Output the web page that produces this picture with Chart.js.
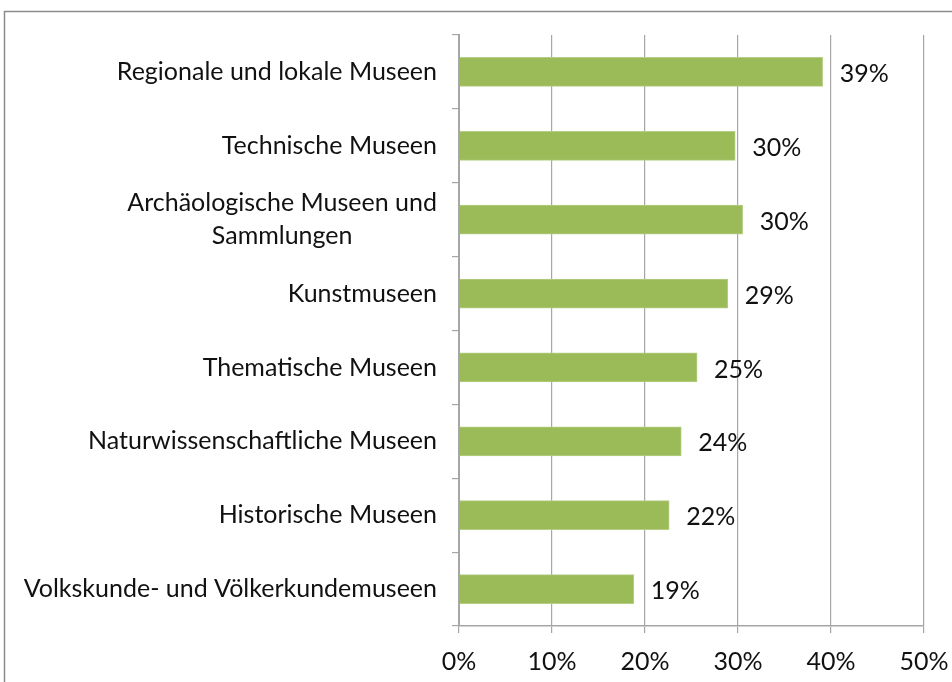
<!DOCTYPE html>
<html>
<head>
<meta charset="utf-8">
<script src="https://cdn.jsdelivr.net/npm/chart.js@4/dist/chart.umd.min.js"></script>
<style>
  html, body { margin: 0; padding: 0; background: #fff; }
  #wrap { width: 952px; height: 682px; position: relative; }
</style>
</head>
<body>
<div id="wrap"><canvas id="chart"></canvas></div>
<script>
// Museum types and share (%)
const categories = [
  'Regionale und lokale Museen',
  'Technische Museen',
  ['Archäologische Museen und', 'Sammlungen'],
  'Kunstmuseen',
  'Thematische Museen',
  'Naturwissenschaftliche Museen',
  'Historische Museen',
  'Volkskunde- und Völkerkundemuseen'
];
const shares = [39.1, 29.7, 30.5, 28.9, 25.6, 23.9, 22.6, 18.8];
const shareLabels = ['39%', '30%', '30%', '29%', '25%', '24%', '22%', '19%'];
const xTicks = [0, 10, 20, 30, 40, 50];

const FONT = 'Lato, "Open Sans", sans-serif';
const FONT_SIZE = 25;
const GRID = '#a6a6a6';

// outer frame like the original export
const framePlugin = {
  id: 'frame',
  beforeDraw(chart) {
    const ctx = chart.ctx;
    ctx.save();
    ctx.strokeStyle = '#8c8c8c';
    ctx.lineWidth = 1.5;
    ctx.strokeRect(4.5, 11.5, 1200, 1200);
    ctx.restore();
  }
};

// category labels, multi-line ones centered within their block
const catLabelPlugin = {
  id: 'catLabels',
  afterDraw(chart) {
    const ctx = chart.ctx;
    const yScale = chart.scales.y;
    const right = chart.chartArea.left - 22;
    const lineH = 33;
    ctx.save();
    ctx.font = FONT_SIZE + 'px ' + FONT;
    ctx.fillStyle = '#111';
    ctx.textBaseline = 'middle';
    ctx.textAlign = 'center';
    categories.forEach((lab, i) => {
      const lines = Array.isArray(lab) ? lab : [lab];
      const w = Math.max(...lines.map(l => ctx.measureText(l).width));
      const cx = right - w / 2;
      const yc = yScale.getPixelForTick(i);
      lines.forEach((l, j) => {
        ctx.fillText(l, cx, yc + (j - (lines.length - 1) / 2) * lineH);
      });
    });
    ctx.restore();
  }
};

// value labels at bar ends
const valueLabelPlugin = {
  id: 'valueLabels',
  afterDatasetsDraw(chart) {
    const ctx = chart.ctx;
    const meta = chart.getDatasetMeta(0);
    ctx.save();
    ctx.font = FONT_SIZE + 'px ' + FONT;
    ctx.fillStyle = '#111';
    ctx.textBaseline = 'middle';
    ctx.textAlign = 'left';
    meta.data.forEach((bar, i) => {
      ctx.fillText(shareLabels[i], bar.x + 17, bar.y + 2);
    });
    ctx.restore();
  }
};

new Chart(document.getElementById('chart'), {
  type: 'bar',
  data: {
    labels: categories,
    datasets: [{
      data: shares,
      backgroundColor: '#9bbb59',
      borderColor: '#b5cf85',
      borderWidth: 1,
      barThickness: 29
    }]
  },
  options: {
    indexAxis: 'y',
    responsive: true,
    maintainAspectRatio: false,
    animation: false,
    layout: { padding: { top: 35, right: 28, left: 0, bottom: 0 } },
    plugins: {
      legend: { display: false },
      tooltip: { enabled: false }
    },
    scales: {
      x: {
        min: 0,
        max: 50,
        afterBuildTicks: scale => { scale.ticks = xTicks.map(v => ({ value: v })); },
        afterFit: scale => {
          scale.height = 56;
          scale.paddingLeft = 0;
          scale.paddingRight = 0;
        },
        grid: { color: GRID, lineWidth: 1.2, tickLength: 7, drawTicks: true },
        border: { color: GRID, width: 1.5 },
        ticks: {
          padding: 14,
          color: '#111',
          font: { family: FONT, size: FONT_SIZE },
          callback: v => v + '%'
        }
      },
      y: {
        afterFit: scale => { scale.width = 459; },
        grid: { color: GRID, lineWidth: 1.2, drawOnChartArea: false, tickLength: 7, offset: true },
        border: { color: GRID, width: 2 },
        ticks: { display: false }
      }
    }
  },
  plugins: [framePlugin, catLabelPlugin, valueLabelPlugin]
});
</script>
</body>
</html>
